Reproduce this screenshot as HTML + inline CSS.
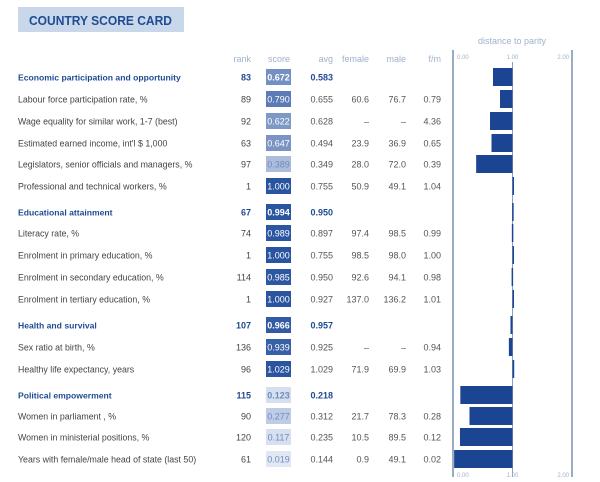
<!DOCTYPE html>
<html><head><meta charset="utf-8">
<style>
body{margin:0;background:#fff;font-family:"Liberation Sans",sans-serif;}
#wrap{position:relative;width:600px;height:482px;overflow:hidden;}
</style></head><body>
<div id="wrap">
<svg id="chart" width="600" height="482" xmlns="http://www.w3.org/2000/svg"></svg>
</div>
<script>
const labels=["Economic participation and opportunity","Labour force participation rate, %","Wage equality for similar work, 1-7 (best)","Estimated earned income, int'l $ 1,000","Legislators, senior officials and managers, %","Professional and technical workers, %","Educational attainment","Literacy rate, %","Enrolment in primary education, %","Enrolment in secondary education, %","Enrolment in tertiary education, %","Health and survival","Sex ratio at birth, %","Healthy life expectancy, years","Political empowerment","Women in parliament , %","Women in ministerial positions, %","Years with female/male head of state (last 50)"];
const isHeader=[1,0,0,0,0,0,1,0,0,0,0,1,0,0,1,0,0,0];
const ranks=[83,89,92,63,97,1,67,74,1,114,1,107,136,96,115,90,120,61];
const scores=[0.672,0.790,0.622,0.647,0.389,1.000,0.994,0.989,1.000,0.985,1.000,0.966,0.939,1.029,0.123,0.277,0.117,0.019];
const avgs=["0.583","0.655","0.628","0.494","0.349","0.755","0.950","0.897","0.755","0.950","0.927","0.957","0.925","1.029","0.218","0.312","0.235","0.144"];
const females=["","60.6","–","23.9","28.0","50.9","","97.4","98.5","92.6","137.0","","–","71.9","","21.7","10.5","0.9"];
const males=["","76.7","–","36.9","72.0","49.1","","98.5","98.0","94.1","136.2","","–","69.9","","78.3","89.5","49.1"];
const fm=["","0.79","4.36","0.65","0.39","1.04","","0.99","1.00","0.98","1.01","","0.94","1.03","","0.28","0.12","0.02"];
const rowY=[77,99,121,143,164,186,212,233,255,277,299,325,347,369,395,416,437,459];
const axisTicks=[0,1,2];
const tickLabels=["0.00","1.00","2.00"];

const svg=document.getElementById('chart');
const NS="http://www.w3.org/2000/svg";
function mk(tag,attrs,txt){const e=document.createElementNS(NS,tag);for(const k in attrs)e.setAttribute(k,attrs[k]);if(txt!==undefined)e.textContent=txt;svg.appendChild(e);return e;}
const xScale=v=>453+v*59.5;
function mix(a,b,t){return a.map((c,i)=>Math.round(c+(b[i]-c)*t));}
function scoreColor(s){const t=Math.max(0,Math.min(1,s));const c=mix([226,233,244],[42,84,160],Math.pow(t,1.3));return `rgb(${c[0]},${c[1]},${c[2]})`;}

let e=mk('rect',{x:18,y:7,width:166,height:25,fill:'#c9d7eb'});


e=mk('text',{x:29,y:25,'font-size':13,'font-weight':'bold',fill:'#1f4b92',textLength:143,lengthAdjust:'spacingAndGlyphs'},'COUNTRY SCORE CARD');



const heads=[["rank",251],["score",290],["avg",333],["female",369],["male",406],["f/m",441]];
heads.forEach(h=>{const t=mk('text',{x:h[1],y:62,'font-size':9,fill:'#9fb2cc','text-anchor':'end'},h[0]);

});
e=mk('text',{x:512,y:44,'font-size':9,fill:'#9fb2cc','text-anchor':'middle'},'distance to parity');



[0,1,2].forEach((v,i)=>{const l=mk('line',{x1:xScale(v),x2:xScale(v),y1:i==1?62:50,y2:477,stroke:i==1?'#8aa0bd':'#7890b0','stroke-width':i==1?1:1.5});

});
axisTicks.forEach((v,i)=>{[59,477].forEach(y=>{const t=mk('text',{x:xScale(v)+(i==2?-3:i==0?4:0),y:y,'font-size':6,fill:'#9fb2cc','text-anchor':i==0?'start':i==2?'end':'middle'},tickLabels[i]);

});});

labels.forEach((lab,i)=>{
 const y=rowY[i],h=isHeader[i];
 const col=h?'#1f4b92':'#444';
 let t=mk('text',{x:18,y:y+3.5,'font-size':h?8.6:8.8,fill:col,'font-weight':h?'bold':'normal'},lab);
 
 
 t=mk('text',{x:251,y:y+3.5,'font-size':9,fill:col,'font-weight':h?'bold':'normal','text-anchor':'end'},String(ranks[i]));
 
 
 const r=mk('rect',{x:266,y:y-8,width:25,height:16,fill:scoreColor(scores[i])});
 
 
 t=mk('text',{x:278.5,y:y+3.5,'font-size':9,fill:scores[i]>0.5?'#fff':'#6f8cc0','font-weight':h?'bold':'normal','text-anchor':'middle'},scores[i].toFixed(3));
 
 
 [[avgs[i],333],[females[i],369],[males[i],406],[fm[i],441]].forEach((c,j)=>{
  if(!c[0])return;
  const tt=mk('text',{x:c[1],y:y+3.5,'font-size':9,fill:(h&&j==0)?'#1f4b92':'#555','font-weight':(h&&j==0)?'bold':'normal','text-anchor':'end'},c[0]);
  
  
 });
 const x1=xScale(Math.min(scores[i],1)),x2=xScale(Math.max(scores[i],1));
 const b=mk('rect',{x:x1,y:y-9,width:Math.max(x2-x1,1.5),height:18,fill:'#1b4593'});
 
 
});
</script>
</body></html>
